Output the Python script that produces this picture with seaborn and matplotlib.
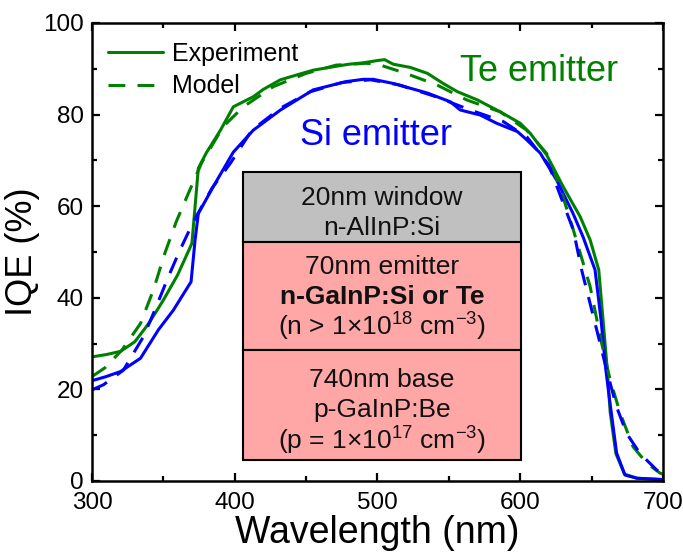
"""IQE vs wavelength for Si- and Te-doped GaInP emitters, with layer stack inset."""
import matplotlib
matplotlib.use("Agg")
import matplotlib.pyplot as plt
import seaborn as sns
from matplotlib.patches import Rectangle
from matplotlib.ticker import MultipleLocator

# Te emitter, experiment
te_exp_nm = [300, 310, 320, 330, 340, 350, 360, 368, 370, 374.5, 380, 390, 399, 413,
             420, 432, 445, 455, 470, 480, 490, 500, 505, 511, 523, 535, 546, 556,
             570, 586, 600, 607, 618.5, 630, 642, 649, 655, 658, 661, 663, 667,
             673, 682, 700]
te_exp_iqe = [27.1, 27.6, 28.3, 30.4, 34.5, 39.5, 45.0, 50.5, 51.9, 68.3, 71.6, 76.6,
              81.7, 83.9, 85.5, 87.6, 88.8, 89.7, 90.5, 91.0, 91.3, 91.8, 92.0, 91.0,
              90.3, 89.0, 86.8, 85.0, 83.2, 80.6, 78.1, 75.9, 71.2, 64.3, 57.7, 52.6,
              46.1, 35.2, 24.2, 15.0, 6.0, 1.5, 0.6, 0.3]

# Te emitter, model
te_mod_nm = [300, 309, 321, 334, 343, 351, 359, 367.5, 377, 392, 406, 427, 450, 471,
             492, 500, 518, 541.5, 562.5, 586, 604.5, 618.5, 628, 637, 649, 657, 663,
             670, 679, 688.6, 698, 700]
te_mod_iqe = [22.8, 24.7, 28.6, 34.4, 41.7, 49.7, 56.6, 62.8, 69.6, 77.4, 81.7, 86.1,
              89.0, 90.8, 91.2, 91.0, 89.2, 86.5, 83.2, 80.6, 76.6, 71.5, 64.0, 55.0,
              42.4, 30.1, 22.1, 14.8, 7.5, 3.9, 1.7, 1.5]

# Si emitter, experiment
si_exp_nm = [300, 310, 320, 334, 346.5, 357, 369.4, 372.2, 374.5, 385, 399, 413, 432,
             455, 478, 490, 497, 511, 535, 551, 558, 572, 583.5, 598, 604.5, 614,
             625.5, 637, 644, 652.4, 656.6, 660, 662.9, 667.5, 673.4, 681.6, 700]
si_exp_iqe = [21.9, 22.8, 23.9, 26.8, 33.0, 37.3, 43.5, 52.6, 58.4, 64.3, 71.8, 76.6,
              81.0, 85.4, 87.2, 87.7, 87.7, 86.8, 84.7, 82.8, 81.0, 79.9, 78.1, 76.3,
              74.5, 71.6, 65.7, 58.4, 53.3, 46.1, 35.2, 24.2, 17.0, 6.1, 1.3, 0.6, 0.3]

# Si emitter, model
si_mod_nm = [300, 308, 322, 336, 344, 353.5, 361.6, 371, 384, 397, 412, 432, 453, 475,
             495, 515, 540, 565, 588, 605, 620, 637.2, 643, 648.9, 655.9, 660.5,
             667.5, 674.5, 683.9, 695.6, 700]
si_mod_iqe = [19.9, 21.0, 24.2, 31.5, 37.3, 44.6, 50.4, 56.6, 63.9, 69.4, 76.6, 81.4,
              85.0, 87.0, 87.6, 86.5, 84.0, 81.0, 78.5, 75.0, 69.0, 54.8, 46.1, 38.8,
              30.1, 24.2, 16.2, 10.4, 6.0, 2.4, 1.8]

# layer stack inset: (label lines, face colour, bold line index)
layers = [
    (["20nm window", "n-AlInP:Si"], "#c0c0c0", None),
    (["70nm emitter", "n-GaInP:Si or Te", r"(n > 1$\times$10$^{18}$ cm$^{-3}$)"],
     "#ffa6a6", 1),
    (["740nm base", "p-GaInP:Be", r"(p = 1$\times$10$^{17}$ cm$^{-3}$)"],
     "#ffa6a6", None),
]
layer_edges = [67.5, 52.2, 28.6, 4.6]   # IQE-axis boundaries of the inset
text_shift = [-1.3, -0.2, -1.2]          # nudge each block's text down a bit
inset_x = (405.8, 600.5)

GREEN = "#008000"
BLUE = "#0000ff"

sns.set_theme(style="ticks")
plt.rcParams["font.family"] = ["Liberation Sans", "DejaVu Sans"]
plt.rcParams["mathtext.fontset"] = "custom"
plt.rcParams["mathtext.rm"] = "Liberation Sans"
plt.rcParams["mathtext.it"] = "Liberation Sans:italic"
plt.rcParams["mathtext.bf"] = "Liberation Sans:bold"
for key in ("text.color", "axes.labelcolor", "xtick.color", "ytick.color",
            "axes.edgecolor"):
    plt.rcParams[key] = "black"

fig, ax = plt.subplots(figsize=(6.83, 5.54), dpi=100)
fig.subplots_adjust(left=0.1347, right=0.9707, bottom=0.1318, top=0.9585)

dash = (0, (5.5, 4))
lw = 2.2
sns.lineplot(x=te_exp_nm, y=te_exp_iqe, color=GREEN, lw=lw, label="Experiment",
             estimator=None, ax=ax)
sns.lineplot(x=si_exp_nm, y=si_exp_iqe, color=BLUE, lw=lw, estimator=None,
             legend=False, ax=ax)
sns.lineplot(x=te_mod_nm, y=te_mod_iqe, color=GREEN, lw=lw, linestyle=dash,
             label="Model", estimator=None, ax=ax)
sns.lineplot(x=si_mod_nm, y=si_mod_iqe, color=BLUE, lw=lw, linestyle=dash,
             estimator=None, legend=False, ax=ax)

# inset layer stack
x0, x1 = inset_x
blocks = zip(layers, layer_edges[:-1], layer_edges[1:], text_shift)
for (lines, face, bold), top, bot, shift in blocks:
    ax.add_patch(Rectangle((x0, bot), x1 - x0, top - bot, facecolor=face,
                           edgecolor="black", lw=1.5, zorder=3))
    n = len(lines)
    step = 6.6
    mid = (top + bot) / 2 + shift
    for i, txt in enumerate(lines):
        y = mid + (n - 1) / 2 * step - i * step
        ax.text((x0 + x1) / 2, y, txt, ha="center", va="center", fontsize=19,
                fontweight="bold" if i == bold else "normal", color="#111111",
                zorder=4)

ax.text(613, 89.5, "Te emitter", color=GREEN, fontsize=26, ha="center", va="center")
ax.text(499, 75.4, "Si emitter", color=BLUE, fontsize=26, ha="center", va="center")

ax.set_xlim(300, 700)
ax.set_ylim(0, 100)
ax.xaxis.set_major_locator(MultipleLocator(100))
ax.xaxis.set_minor_locator(MultipleLocator(50))
ax.yaxis.set_major_locator(MultipleLocator(20))
ax.yaxis.set_minor_locator(MultipleLocator(10))
ax.tick_params(which="both", direction="in", top=True, right=True, width=1.6,
               color="black", labelsize=17.5)
ax.tick_params(axis="x", which="both", pad=8)
ax.tick_params(axis="y", which="both", pad=6)
ax.tick_params(which="major", length=6)
ax.tick_params(which="minor", length=3.5)
for sp in ax.spines.values():
    sp.set_linewidth(1.8)
    sp.set_color("black")

ax.set_xlabel("Wavelength (nm)", fontsize=27, labelpad=1)
ax.set_ylabel("IQE (%)", fontsize=26, labelpad=2)

ax.legend(loc="upper left", bbox_to_anchor=(0.0, 0.995), frameon=False, fontsize=18,
          handlelength=2.2, handletextpad=0.35, labelspacing=0.35, borderaxespad=0.25)

fig.savefig("out.png", dpi=100)
